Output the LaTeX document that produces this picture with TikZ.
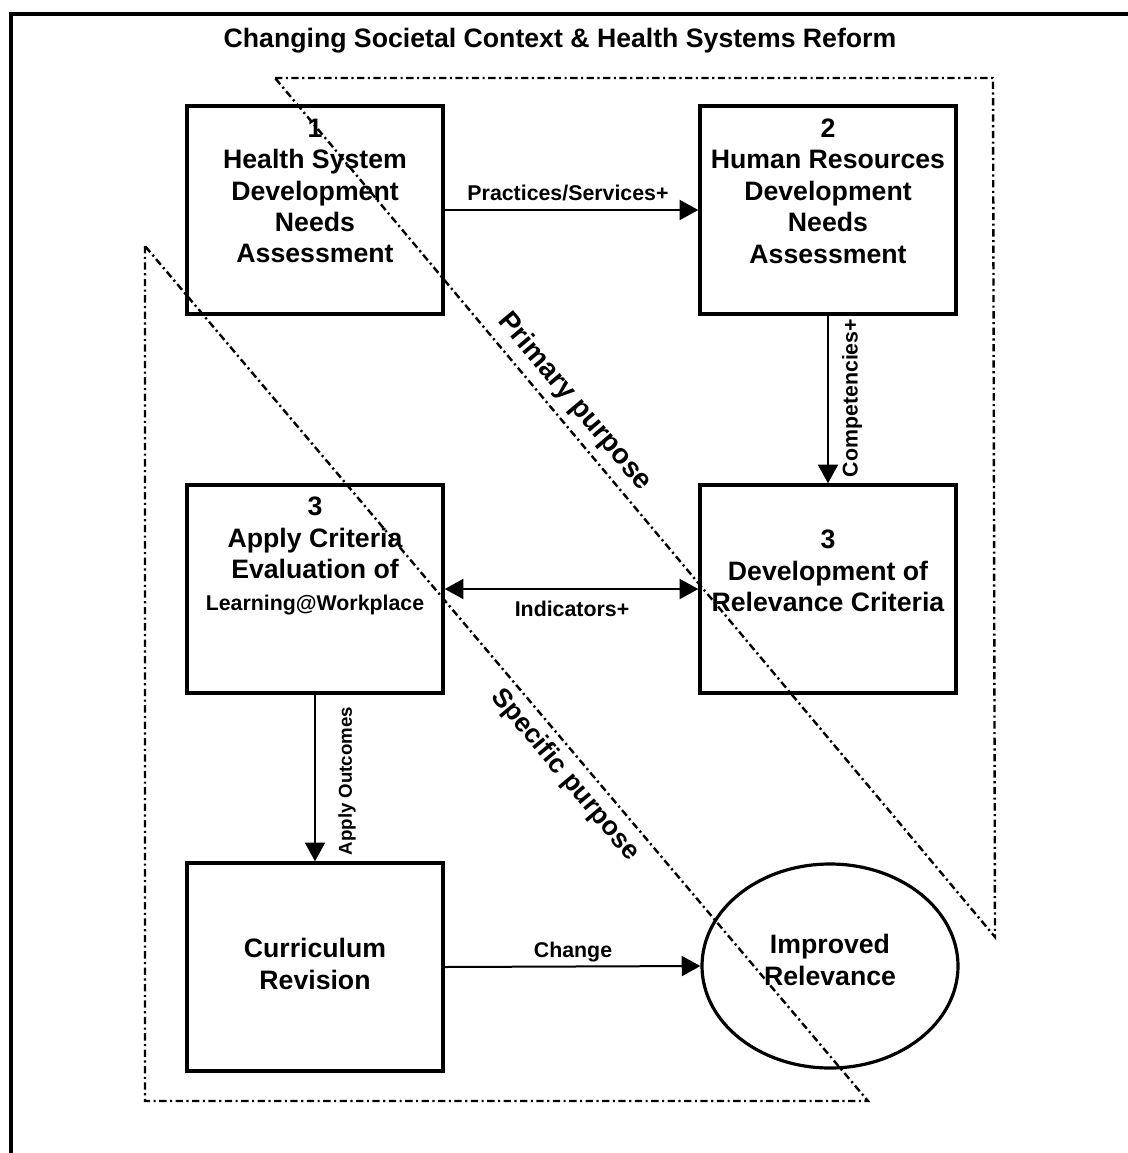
\documentclass[tikz,border=0pt]{standalone}
\usepackage{fontspec}
\setmainfont{Liberation Sans}
\usetikzlibrary{arrows.meta,shapes.geometric}
\begin{document}
\begin{tikzpicture}[x={(0.75pt,0)}, y={(0,-0.75pt)},
  stepbox/.style={draw, line width=2.6pt, minimum width=192pt, minimum height=156pt, inner sep=0},
  goal/.style={draw, ellipse, line width=2.4pt, minimum width=192pt, minimum height=153pt, inner sep=0},
  boxtxt/.style={font=\fontsize{20}{23.6}\selectfont\bfseries, align=center, inner sep=0},
  lbl/.style={font=\fontsize{16}{19}\selectfont\bfseries, inner sep=0},
  smalllbl/.style={font=\fontsize{14}{17}\selectfont\bfseries, inner sep=0},
  purp/.style={font=\fontsize{20}{24}\selectfont\bfseries, inner sep=0, rotate=-50},
  arr/.style={line width=1.5pt, -{Triangle[length=14pt,width=15pt]}},
  darr/.style={line width=1.5pt, {Triangle[length=14pt,width=15pt]}-{Triangle[length=14pt,width=15pt]}},
  region/.style={line width=1.8pt, line join=miter, dash pattern=on 5.5pt off 2.6pt on 1.6pt off 2.6pt},
  frame/.style={line width=3pt}]
\useasboundingbox (0,0) rectangle (1128,1153);

% outer frame (cropped)
\coordinate (fc) at (11,14);
\coordinate (ftr) at (1128,14);
\coordinate (fbl) at (11,1153);
\draw[frame] (fbl) -- (fc) -- (ftr);

% title
\node[boxtxt] (title) at (560,41) {Changing Societal Context \& Health Systems Reform};

% boxes
\node[stepbox] (b1) at (315,210) {};
\node[stepbox] (b2) at (828,210) {};
\node[stepbox] (b3) at (315,589) {};
\node[stepbox] (b4) at (828,589) {};
\node[stepbox] (b5) at (315,967) {};
\node[goal] (el) at (830,966) {};

% box texts
\node[boxtxt] (t1) at (315,191) {1\\Health System\\Development\\Needs\\Assessment};
\node[boxtxt] (t2) at (828,191) {2\\Human Resources\\Development\\Needs\\Assessment};
\node[boxtxt] (t3) at (315,556) {3\\Apply Criteria\\Evaluation of\\{\fontsize{16}{19}\selectfont Learning@Workplace}};
\node[boxtxt] (t4) at (828,571) {3\\Development of\\Relevance Criteria};
\node[boxtxt] (t5) at (315,964) {Curriculum\\Revision};
\node[boxtxt] (t6) at (830,960) {Improved\\Relevance};

% connectors
\draw[arr] (b1.east) -- (b2.west);
\draw[arr] (b2.south) -- (b4.north);
\draw[darr] (b3.east) -- (b4.west);
\draw[arr] (b3.south) -- (b5.north);
\draw[arr] (b5.east) -- (el.west);

% connector labels
\node[lbl] (l1) at (568,193) {Practices/Services+};
\node[lbl, rotate=90] (l2) at (852,398) {Competencies+};
\node[lbl] (l3) at (572,609) {Indicators+};
\node[smalllbl, rotate=90] (l4) at (347,781) {Apply Outcomes};
\node[lbl] (l5) at (573,952) {Change};

% purpose regions
\coordinate (p1) at (275,78);
\coordinate (p2) at (993,78);
\coordinate (p3) at (995,937);
\draw[region] (p1) -- (p2) -- (p3) -- cycle;
\coordinate (s1) at (145,246);
\coordinate (s2) at (145,1101);
\coordinate (s3) at (868,1101);
\draw[region] (s1) -- (s2) -- (s3) -- cycle;

\node[purp, font=\fontsize{21}{25}\selectfont\bfseries] (pp) at (575,402) {Primary purpose};
\node[purp] (sp) at (565,775) {Specific purpose};
\end{tikzpicture}
\end{document}
